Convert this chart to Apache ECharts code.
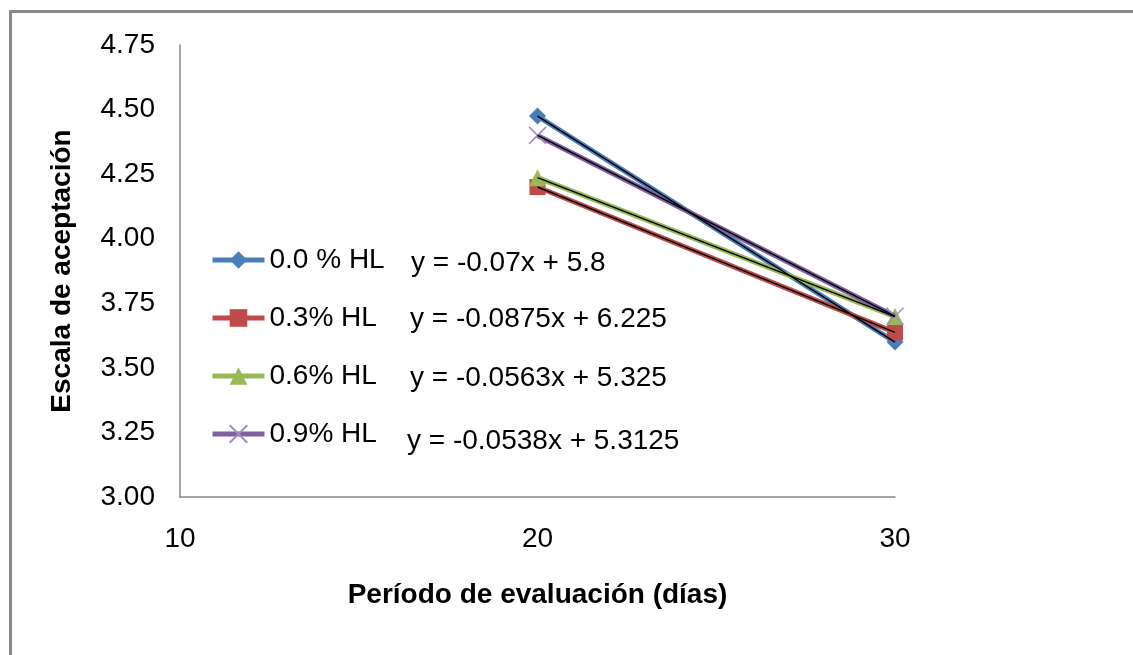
<!DOCTYPE html>
<html>
<head>
<meta charset="utf-8">
<script src="https://cdn.jsdelivr.net/npm/echarts@6/dist/echarts.min.js"></script>
<style>
  html, body { margin: 0; padding: 0; background: #ffffff; }
  #chart { width: 1133px; height: 655px; }
</style>
</head>
<body>
<div id="chart"></div>
<script>
// Evaluation days (x) and acceptance scores per treatment
const days = [20, 30];
const seriesNames = ['0.0 % HL', '0.3% HL', '0.6% HL', '0.9% HL'];
const hl00 = [4.475, 3.6];
const hl03 = [4.2, 3.6375];
const hl06 = [4.2365, 3.6985];
const hl09 = [4.4, 3.7];
const trendEquations = [
  'y = -0.07x + 5.8',
  'y = -0.0875x + 6.225',
  'y = -0.0563x + 5.325',
  'y = -0.0538x + 5.3125'
];
const xTicks = [10, 20, 30];
const yMin = 3.0, yMax = 4.75, yStep = 0.25;

const colors = ['#4A7EBB', '#BE4B48', '#98B954', '#7D60A0'];
const symbols = ['diamond', 'rect', 'triangle', 'path://M0,0L10,10M10,0L0,10'];
const symbolSizes = [17, 16, 17, 17];
const values = [hl00, hl03, hl06, hl09];

const FONT = '"Liberation Sans", Arial, sans-serif';
const FS = 28;

const pairs = v => days.map((d, i) => [d, v[i]]);

const dataSeries = values.map((v, i) => ({
  name: seriesNames[i],
  type: 'line',
  data: pairs(v),
  symbol: symbols[i],
  symbolSize: symbolSizes[i],
  lineStyle: { color: colors[i], width: 5 },
  itemStyle: i === 3
    ? { color: 'rgba(0,0,0,0)', borderColor: '#A08CC0', borderWidth: 1.5 }
    : { color: colors[i], borderWidth: 0 },
  emphasis: { disabled: true },
  z: 2 + i
}));

// Linear trendlines (black, thin) over each series
const trendSeries = values.map((v, i) => ({
  name: 'trend' + i,
  type: 'line',
  data: pairs(v),
  symbol: 'none',
  lineStyle: { color: '#000000', width: 1.5 },
  emphasis: { disabled: true },
  z: 10
}));

const eqRows = [264, 320, 379, 442];
const eqX = [411, 410, 410, 407];

const chart = echarts.init(document.getElementById('chart'), null, { renderer: 'canvas' });
chart.setOption({
  animation: false,
  backgroundColor: '#ffffff',
  textStyle: { fontFamily: FONT },
  grid: { left: 180, right: 238, top: 45, bottom: 158, containLabel: false },
  xAxis: {
    type: 'value',
    min: xTicks[0],
    max: xTicks[xTicks.length - 1],
    interval: 10,
    axisLine: { lineStyle: { color: '#868686', width: 1.5 } },
    axisTick: { show: false },
    splitLine: { show: false },
    axisLabel: { color: '#000', fontSize: FS, margin: 28, fontFamily: FONT },
    name: 'Período de evaluación (días)',
    nameLocation: 'middle',
    nameGap: 84,
    nameTextStyle: { color: '#000', fontSize: FS, fontWeight: 'bold', fontFamily: FONT }
  },
  yAxis: {
    type: 'value',
    min: yMin,
    max: yMax,
    interval: yStep,
    axisLine: { show: true, lineStyle: { color: '#868686', width: 1.5 } },
    axisTick: { show: false },
    splitLine: { show: false },
    axisLabel: { color: '#000', fontSize: FS, margin: 25, fontFamily: FONT,
      formatter: v => v.toFixed(2) },
    name: 'Escala de aceptación',
    nameLocation: 'middle',
    nameGap: 104,
    nameTextStyle: { color: '#000', fontSize: FS, fontWeight: 'bold', fontFamily: FONT }
  },
  legend: {
    data: seriesNames,
    orient: 'vertical',
    left: 210,
    top: 245,
    padding: 0,
    itemWidth: 52,
    itemHeight: 22,
    itemGap: 28,
    lineStyle: { width: 5 },
    textStyle: { color: '#000', fontSize: FS, lineHeight: 30, fontFamily: FONT },
    selectedMode: false
  },
  graphic: [
    {
      type: 'rect',
      shape: { x: 10.5, y: 11.5, width: 1300, height: 800 },
      style: { fill: 'none', stroke: '#888888', lineWidth: 3 },
      silent: true
    },
    ...trendEquations.map((t, i) => ({
      type: 'text',
      left: eqX[i],
      top: eqRows[i] - 15,
      style: { text: t, fill: '#000', font: FS + 'px ' + FONT },
      silent: true
    }))
  ],
  series: [...dataSeries, ...trendSeries]
});
</script>
</body>
</html>
